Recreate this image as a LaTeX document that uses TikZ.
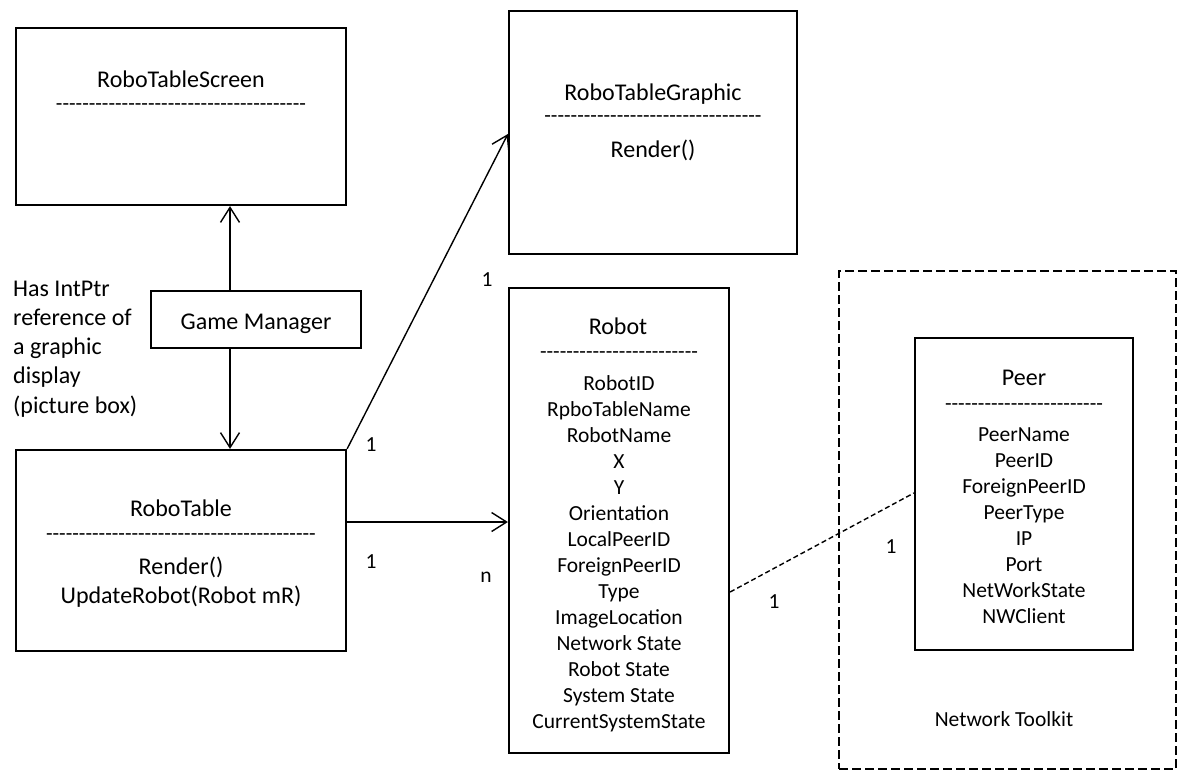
\documentclass[tikz,border=0pt]{standalone}
\usepackage{fontspec}
\setmainfont{Carlito}
\usetikzlibrary{arrows.meta}
% a row of separate hyphens (no ligatures between them)
\newcount\hycount
\newcommand\hyrow[1]{\hycount=0 \loop -{}\advance\hycount by 1 \ifnum\hycount<#1\repeat}
\begin{document}
\begin{tikzpicture}[x=1pt,y=-1pt,
  box/.style={draw, line width=2.2pt, inner sep=0pt, anchor=center},
  big/.style={font=\fontsize{24}{29}\selectfont, inner sep=0pt, align=center, anchor=base},
  txt/.style={font=\fontsize{21.5}{26}\selectfont, inner sep=0pt, align=center, anchor=base},
  sep/.style={font=\fontsize{21.5}{26}\selectfont, inner sep=0pt, anchor=center},
  lbl/.style={font=\fontsize{21.5}{26}\selectfont, inner sep=0pt, anchor=center},
  arr/.style={line width=1.4pt, -{Straight Barb[length=15pt,width=19pt,line width=1.4pt]}},
  assoc/.style={line width=1.4pt, dash pattern=on 5pt off 3pt},
  group/.style={draw, line width=2.7pt, dash pattern=on 9pt off 4pt, inner sep=0pt, anchor=center}
]
\useasboundingbox (0,0) rectangle (1177,769);
\clip (0,0) rectangle (1177,769);

% class boxes
\node[box, minimum width=330pt, minimum height=177pt] (scr)  at (181,116.5) {};
\node[box, minimum width=288pt, minimum height=243pt] (gfx)  at (653,132.5) {};
\node[box, minimum width=210pt, minimum height=57pt]  (gm)   at (256,319.5) {};
\node[box, minimum width=330pt, minimum height=201pt] (tbl)  at (181,550.5) {};
\node[box, minimum width=220pt, minimum height=465pt] (rob)  at (619,520.5) {};
\node[group, minimum width=337pt, minimum height=498pt] (kit) at (1007.5,520) {};
\node[box, minimum width=218pt, minimum height=312pt] (peer) at (1024,494) {};

% RoboTableScreen
\node[big] (scrT) at (181,87) {RoboTableScreen};
\node[sep] (scrS) at (181,107) {\hyrow{38}};

% RoboTableGraphic
\node[big] (gfxT) at (653,100) {RoboTableGraphic};
\node[sep] (gfxS) at (653,119) {\hyrow{33}};
\node[big] (gfxM) at (653,157) {Render()};

% Game Manager and note
\node[big] (gmT) at (256,329) {Game Manager};
\node[big, align=left, anchor=base west, font=\fontsize{24}{29.2}\selectfont] (note) at (13,413)
  {Has IntPtr\\reference of\\a graphic\\display\\(picture box)};

% RoboTable
\node[big] (tblT) at (181,516) {RoboTable};
\node[sep] (tblS) at (181,537) {\hyrow{41}};
\node[big] (tblM) at (181,603) {Render()\\UpdateRobot(Robot mR)};

% Robot
\node[big] (robT) at (618,334) {Robot};
\node[sep] (robS) at (619,355) {\hyrow{24}};
\node[txt] (robA) at (619,728) {RobotID\\RpboTableName\\RobotName\\X\\Y\\Orientation\\LocalPeerID\\ForeignPeerID\\Type\\ImageLocation\\Network State\\Robot State\\System State\\CurrentSystemState};

% Peer
\node[big] (peerT) at (1024,385) {Peer};
\node[sep] (peerS) at (1024,407) {\hyrow{24}};
\node[txt] (peerA) at (1024,623) {PeerName\\PeerID\\ForeignPeerID\\PeerType\\IP\\Port\\NetWorkState\\NWClient};

\node[txt] (kitT) at (1004,726) {Network Toolkit};

% connectors
\draw[arr] ([xshift=-26pt]gm.north) -- ([xshift=-26pt]gm.north |- scr.south);
\draw[arr] ([xshift=-26pt]gm.south) -- ([xshift=-26pt]gm.south |- tbl.north);
\draw[arr] (tbl.north east) -- ([yshift=-1.5pt]gfx.west);
\draw[arr] ([yshift=28.5pt]tbl.east) coordinate (hs) -- (hs -| rob.west);
\draw[assoc] ([yshift=-71.5pt]rob.east) -- ([yshift=1pt]peer.west);

% multiplicities
\node[lbl] (m1) at (487,280) {1};
\node[lbl] (m2) at (371,445) {1};
\node[lbl] (m3) at (371,562) {1};
\node[lbl] (m4) at (486,577) {n};
\node[lbl] (m5) at (774,602) {1};
\node[lbl] (m6) at (891,547) {1};
\end{tikzpicture}
\end{document}
